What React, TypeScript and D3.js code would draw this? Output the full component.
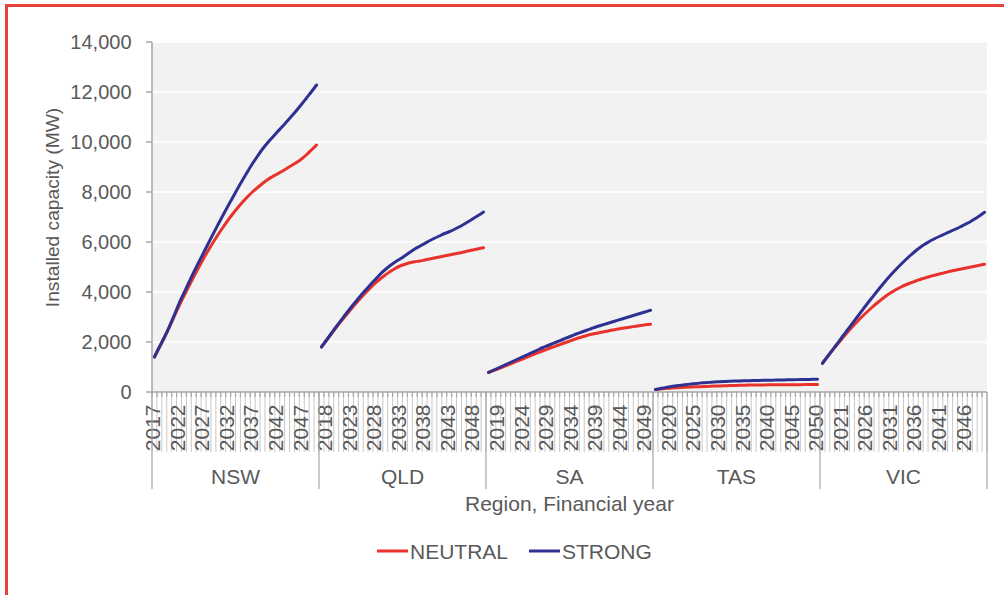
import React from "react";
import * as d3 from "d3";

const regions = ["NSW", "QLD", "SA", "TAS", "VIC"];
const years = d3.range(2017, 2051).map(String);
const yTicks = [0, 2000, 4000, 6000, 8000, 10000, 12000, 14000];
const seriesNames = ["NEUTRAL", "STRONG"];

const nswNeutral = [1400,1780,2170,2580,3010,3440,3840,4230,4610,4980,5340,5680,6000,6310,6600,6880,7140,7380,7610,7820,8010,8180,8340,8490,8610,8720,8830,8950,9070,9190,9330,9500,9690,9880];
const nswStrong = [1400,1800,2180,2600,3060,3540,3960,4380,4790,5180,5570,5960,6340,6720,7090,7450,7800,8160,8500,8830,9150,9440,9720,9960,10180,10400,10610,10830,11050,11280,11520,11770,12020,12280];
const qldNeutral = [1800,2060,2320,2580,2830,3070,3310,3540,3760,3970,4170,4360,4530,4680,4820,4940,5040,5110,5170,5210,5240,5280,5320,5360,5400,5440,5480,5520,5560,5600,5650,5690,5730,5770];
const qldStrong = [1800,2070,2340,2610,2870,3130,3380,3620,3860,4080,4300,4510,4720,4900,5060,5200,5320,5450,5590,5720,5830,5940,6050,6150,6240,6330,6410,6500,6600,6710,6830,6950,7070,7200];
const saNeutral = [780,855,930,1010,1085,1165,1245,1325,1405,1485,1565,1640,1715,1790,1860,1930,2000,2070,2140,2200,2260,2310,2350,2390,2430,2470,2505,2540,2570,2600,2630,2660,2690,2710];
const saStrong = [780,870,960,1050,1140,1230,1320,1410,1500,1590,1680,1770,1850,1930,2010,2090,2170,2250,2330,2400,2470,2540,2610,2670,2730,2790,2850,2910,2970,3030,3090,3150,3210,3270];
const tasNeutral = [100,120,138,153,167,180,190,199,207,214,221,228,236,243,250,256,262,267,272,277,280,282,284,286,288,290,291,292,293,294,295,296,297,298];
const tasStrong = [100,140,175,210,240,265,290,315,335,355,370,385,400,410,420,430,437,443,449,454,459,463,467,471,475,479,483,487,491,495,499,503,507,510];
const vicNeutral = [1150,1410,1660,1900,2140,2370,2590,2800,3000,3190,3370,3540,3700,3850,3980,4100,4200,4290,4370,4440,4510,4570,4630,4680,4730,4780,4830,4870,4910,4950,4990,5030,5070,5110];
const vicStrong = [1150,1410,1670,1930,2200,2460,2720,2980,3240,3500,3750,4000,4240,4480,4700,4910,5110,5300,5480,5650,5800,5930,6050,6150,6240,6330,6420,6510,6600,6700,6800,6920,7050,7190];

const neutralByRegion = [nswNeutral, qldNeutral, saNeutral, tasNeutral, vicNeutral];
const strongByRegion = [nswStrong, qldStrong, saStrong, tasStrong, vicStrong];

const W = 1004, H = 595;
const plot = { left: 152, right: 987, top: 42, bottom: 392 };
const COLORS = { NEUTRAL: "#e8322b", STRONG: "#2e3192" };
const TEXT = "#595959";
const FONT = "'Liberation Sans', Arial, sans-serif";

export default function App() {
  const keys: string[] = [];
  regions.forEach((r) => years.forEach((y) => keys.push(r + "|" + y)));
  const x = d3.scaleBand<string>().domain(keys).range([plot.left, plot.right]).padding(0);
  const bw = x.bandwidth();
  const y = d3.scaleLinear().domain([0, 14000]).range([plot.bottom, plot.top]);
  const line = d3
    .line<[number, number]>()
    .x((d) => d[0])
    .y((d) => d[1])
    .curve(d3.curveCatmullRom.alpha(0.5));

  const paths: { d: string; color: string }[] = [];
  regions.forEach((r, ri) => {
    [neutralByRegion[ri], strongByRegion[ri]].forEach((vals, si) => {
      const pts: [number, number][] = vals.map((v, i) => [
        (x(r + "|" + years[i]) as number) + bw / 2,
        y(v),
      ]);
      paths.push({ d: line(pts) as string, color: si === 0 ? COLORS.NEUTRAL : COLORS.STRONG });
    });
  });

  const regionScale = d3.scaleBand<string>().domain(regions).range([plot.left, plot.right]);

  return (
    <svg
      width={W}
      height={H}
      style={{ position: "absolute", left: 0, top: 0, display: "block", background: "#fff" }}
      fontFamily={FONT}
    >
      {/* frame */}
      <line x1={5} x2={W} y1={5.5} y2={5.5} stroke="#e8413a" strokeWidth={3} />
      <line x1={6.5} x2={6.5} y1={4} y2={H} stroke="#e8413a" strokeWidth={3} />

      {/* plot background */}
      <rect x={plot.left} y={plot.top} width={plot.right - plot.left} height={plot.bottom - plot.top} fill="#f2f2f2" />
      {yTicks.slice(1).map((t) => (
        <line key={"g" + t} x1={plot.left} x2={plot.right} y1={y(t)} y2={y(t)} stroke="#ffffff" strokeWidth={1.5} />
      ))}

      {/* y axis */}
      <line x1={plot.left} x2={plot.left} y1={plot.top} y2={plot.bottom} stroke="#a6a6a6" strokeWidth={1.5} />
      {yTicks.map((t) => (
        <g key={"yt" + t}>
          <line x1={plot.left - 6} x2={plot.left} y1={y(t)} y2={y(t)} stroke="#a6a6a6" strokeWidth={1.5} />
          <text x={131.5} y={y(t)} dy="0.35em" textAnchor="end" fontSize={20} fill={TEXT}>
            {d3.format(",")(t)}
          </text>
        </g>
      ))}
      <text
        transform={`translate(59,207.5) rotate(-90)`}
        textAnchor="middle"
        fontSize={19.2}
        fill={TEXT}
      >
        Installed capacity (MW)
      </text>

      {/* x axis: category boundary lines */}
      {keys.map((k) => (
        <line
          key={"cb" + k}
          x1={(x(k) as number)}
          x2={(x(k) as number)}
          y1={plot.bottom}
          y2={452}
          stroke="#c8c8c8"
          strokeWidth={1}
        />
      ))}
      {keys.map((k) => (
        <line
          key={"ct" + k}
          x1={(x(k) as number)}
          x2={(x(k) as number)}
          y1={plot.bottom}
          y2={plot.bottom + 5}
          stroke="#a6a6a6"
          strokeWidth={1.2}
        />
      ))}
      <line x1={plot.right} x2={plot.right} y1={plot.bottom} y2={452} stroke="#c8c8c8" strokeWidth={1} />
      {/* year labels every 5th category */}
      {keys.map((k, i) =>
        i % 5 === 0 ? (
          <text
            key={"yl" + k}
            transform={`translate(${(x(k) as number) + 0.8},404.5) rotate(-90)`}
            dy="0.35em"
            textAnchor="end"
            fontSize={21}
            fill={TEXT}
          >
            {k.split("|")[1]}
          </text>
        ) : null
      )}
      {/* region separators */}
      {regions.concat(["end"]).map((r, i) => {
        const xx = i < regions.length ? (regionScale(r) as number) : plot.right;
        return (
          <line key={"rs" + r} x1={xx} x2={xx} y1={plot.bottom} y2={489} stroke="#a6a6a6" strokeWidth={1.2} />
        );
      })}
      {regions.map((r) => (
        <text
          key={"rl" + r}
          x={(regionScale(r) as number) + regionScale.bandwidth() / 2}
          y={484}
          textAnchor="middle"
          fontSize={21}
          fill={TEXT}
        >
          {r}
        </text>
      ))}
      <line x1={plot.left} x2={plot.right} y1={plot.bottom} y2={plot.bottom} stroke="#a6a6a6" strokeWidth={1.5} />
      <text x={(plot.left + plot.right) / 2} y={510.5} textAnchor="middle" fontSize={21} fill={TEXT}>
        Region, Financial year
      </text>

      {/* series lines */}
      {paths.map((p, i) => (
        <path key={"p" + i} d={p.d} fill="none" stroke={p.color} strokeWidth={3} strokeLinecap="round" strokeLinejoin="round" />
      ))}

      {/* legend */}
      {seriesNames.map((s, i) => {
        const lx = i === 0 ? 377 : 529;
        return (
          <g key={"lg" + s}>
            <line x1={lx} x2={lx + 31} y1={551} y2={551} stroke={COLORS[s as "NEUTRAL" | "STRONG"]} strokeWidth={3} />
            <text x={lx + 33} y={558.5} fontSize={21} fill={TEXT}>
              {s}
            </text>
          </g>
        );
      })}
    </svg>
  );
}
